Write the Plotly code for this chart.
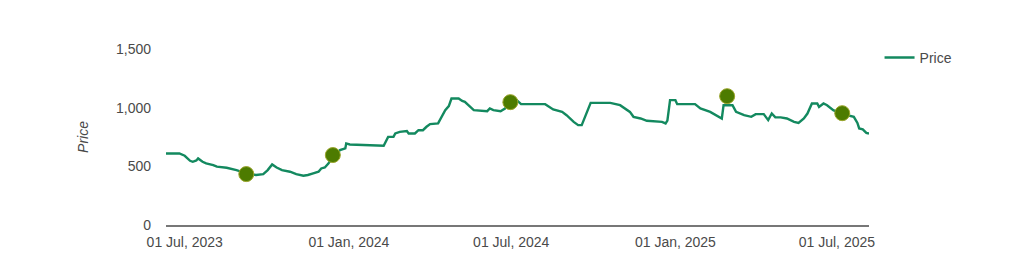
import plotly.graph_objects as go

dates = [
    "2023-06-10", "2023-06-25", "2023-07-01", "2023-07-07", "2023-07-10", "2023-07-14",
    "2023-07-16", "2023-07-21", "2023-07-25", "2023-08-02", "2023-08-06", "2023-08-17",
    "2023-08-28", "2023-09-08", "2023-09-19", "2023-09-27", "2023-10-02", "2023-10-07",
    "2023-10-12", "2023-10-18", "2023-10-27", "2023-11-03", "2023-11-11", "2023-11-16",
    "2023-11-22", "2023-11-28", "2023-12-01", "2023-12-05", "2023-12-09", "2023-12-13",
    "2023-12-22", "2023-12-28", "2023-12-29", "2024-01-02", "2024-02-09", "2024-02-14",
    "2024-02-20", "2024-02-22", "2024-02-27", "2024-03-06", "2024-03-08", "2024-03-15",
    "2024-03-19", "2024-03-24", "2024-03-28", "2024-04-01", "2024-04-10", "2024-04-14",
    "2024-04-18", "2024-04-22", "2024-04-25", "2024-05-03", "2024-05-07", "2024-05-10",
    "2024-05-14", "2024-05-20", "2024-06-04", "2024-06-07", "2024-06-11", "2024-06-19",
    "2024-06-24", "2024-06-30", "2024-07-07", "2024-07-12", "2024-08-08", "2024-08-17",
    "2024-08-27", "2024-09-01", "2024-09-09", "2024-09-14", "2024-09-18", "2024-09-28",
    "2024-10-20", "2024-10-31", "2024-11-11", "2024-11-15", "2024-11-23", "2024-11-30",
    "2024-12-17", "2024-12-21", "2024-12-23", "2024-12-26", "2025-01-01", "2025-01-03",
    "2025-01-23", "2025-01-29", "2025-02-09", "2025-02-17", "2025-02-22", "2025-02-24",
    "2025-03-06", "2025-03-10", "2025-03-19", "2025-03-27", "2025-04-01", "2025-04-10",
    "2025-04-15", "2025-04-19", "2025-04-23", "2025-04-29", "2025-05-06", "2025-05-14",
    "2025-05-19", "2025-05-25", "2025-05-29", "2025-06-03", "2025-06-09", "2025-06-11",
    "2025-06-16", "2025-06-20", "2025-06-27", "2025-07-05", "2025-07-20", "2025-07-24",
    "2025-07-26", "2025-07-30", "2025-08-03", "2025-08-06",
]
prices = [
    610, 610, 590, 547, 539, 550,
    567, 539, 525, 511, 497, 488,
    468, 440, 426, 434, 468, 516,
    490, 468, 454, 434, 420, 426,
    440, 454, 482, 490, 524, 567,
    638, 653, 695, 686, 675, 751,
    751, 780, 794, 800, 780, 780,
    808, 808, 837, 860, 866, 922,
    979, 1013, 1078, 1078, 1057, 1050,
    1021, 979, 970, 993, 979, 970,
    993, 1047, 1064, 1030, 1030, 985,
    964, 936, 879, 851, 851, 1041,
    1041, 1021, 964, 922, 908, 888,
    879, 866, 890, 1064, 1064, 1030,
    1030, 993, 964, 928, 908, 1021,
    1021, 964, 936, 922, 945, 945,
    894, 950, 917, 917, 908, 879,
    870, 908, 950, 1036, 1036, 1007,
    1036, 1021, 979, 950, 922, 870,
    823, 815, 785, 780,
]

event_dates = ["2023-09-08", "2023-12-14", "2024-06-30", "2025-02-28", "2025-07-07"]
event_prices = [434, 596, 1047, 1098, 953]

tick_dates = ["2023-07-01", "2024-01-01", "2024-07-01", "2025-01-01", "2025-07-01"]
tick_labels = ["01 Jul, 2023", "01 Jan, 2024", "01 Jul, 2024", "01 Jan, 2025", "01 Jul, 2025"]
y_ticks = [0, 500, 1000, 1500]
y_labels = ["0", "500", "1,000", "1,500"]

FONT = "Liberation Sans, Arial, sans-serif"
TXT = "#4a4a4a"

fig = go.Figure()
fig.add_trace(go.Scatter(
    x=dates, y=prices, mode="lines", name="Price",
    line=dict(color="#13895f", width=2.4),
))
fig.add_trace(go.Scatter(
    x=event_dates, y=event_prices, mode="markers", showlegend=False,
    marker=dict(size=15, color="#4d7b00", line=dict(color="#9aa52a", width=1)),
))

fig.update_layout(
    width=1012, height=267,
    margin=dict(l=166, r=143, t=49, b=42),
    paper_bgcolor="white", plot_bgcolor="white",
    font=dict(family=FONT, size=14, color=TXT),
    showlegend=True,
    legend=dict(x=1.015, y=1.04, xanchor="left", yanchor="top",
                font=dict(family=FONT, size=14, color=TXT),
                bgcolor="rgba(0,0,0,0)", itemwidth=30),
    xaxis=dict(
        range=["2023-06-10", "2025-08-06"],
        tickvals=tick_dates, ticktext=tick_labels,
        showgrid=False, zeroline=False,
        showline=True, linecolor="#777777", linewidth=1.5,
        ticks="", ticklabelstandoff=3,
        tickfont=dict(family=FONT, size=14, color=TXT),
    ),
    yaxis=dict(
        range=[0, 1500],
        tickvals=y_ticks, ticktext=y_labels,
        showgrid=False, zeroline=False, showline=False, ticks="",
        ticklabelstandoff=14,
        tickfont=dict(family=FONT, size=14, color=TXT),
        title=dict(text="<i>Price</i>", font=dict(family=FONT, size=14, color=TXT),
                   standoff=24),
    ),
)

fig.write_html("out.html")
